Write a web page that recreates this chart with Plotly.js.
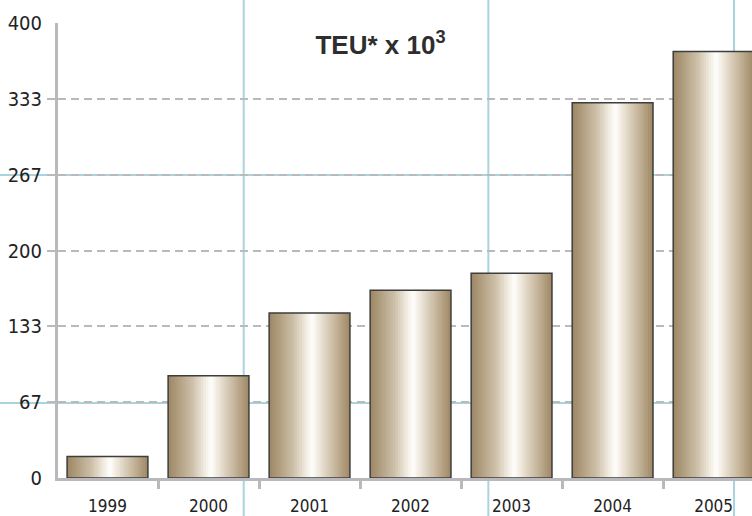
<!DOCTYPE html>
<html>
<head>
<meta charset="utf-8">
<script src="https://cdn.plot.ly/plotly-3.0.1.min.js"></script>
<style>
  html, body { margin: 0; padding: 0; background: #ffffff; }
  #chart { width: 752px; height: 516px; }
</style>
</head>
<body>
<div id="chart"></div>
<script>
// ---- data ----
const years = ['1999', '2000', '2001', '2002', '2003', '2004', '2005'];
const teu = [19, 90, 145, 165, 180, 330, 375];
const yTickVals = [0, 66.67, 133.33, 200, 266.67, 333.33, 400];
const yTickText = ['0', '67', '133', '200', '267', '333', '400'];
const gridVals = [66.67, 133.33, 200, 266.67, 333.33];

// ---- style helpers ----
const gradStops = [
  [0.00, [156, 134, 99]],
  [0.12, [176, 157, 126]],
  [0.30, [205, 192, 169]],
  [0.45, [240, 234, 223]],
  [0.53, [255, 255, 253]],
  [0.62, [238, 231, 219]],
  [0.80, [201, 186, 161]],
  [1.00, [158, 135, 100]]
];
function gradColor(t) {
  for (let i = 1; i < gradStops.length; i++) {
    if (t <= gradStops[i][0]) {
      const a = gradStops[i - 1], b = gradStops[i];
      const f = (t - a[0]) / (b[0] - a[0]);
      const c = a[1].map((v, k) => Math.round(v + (b[1][k] - v) * f));
      return 'rgb(' + c.join(',') + ')';
    }
  }
  return 'rgb(' + gradStops[gradStops.length - 1][1].join(',') + ')';
}

const barW = 0.8;
const nStrips = 32;
const stripW = barW / nStrips;
const traces = [];
for (let i = 0; i < nStrips; i++) {
  traces.push({
    type: 'bar',
    x: years,
    y: teu,
    width: i === nStrips - 1 ? stripW : stripW * 1.6,
    offset: -barW / 2 + i * stripW,
    marker: { color: gradColor((i + 0.5) / nStrips), line: { width: 0 } },
    hoverinfo: 'skip',
    showlegend: false
  });
}
// outline on top
traces.push({
  type: 'bar',
  x: years,
  y: teu,
  width: barW,
  offset: -barW / 2,
  marker: { color: 'rgba(0,0,0,0)', line: { color: '#3d3d3d', width: 1.5 } },
  hoverinfo: 'skip',
  showlegend: false
});

const blue = '#a9d3de';
const axisGrey = '#b9b9bd';
const labelFamily = '"Liberation Sans Narrow", "DejaVu Sans Condensed", Arial, sans-serif';

const layout = {
  width: 752,
  height: 516,
  margin: { l: 58, r: 0, t: 23, b: 38, pad: 0 },
  paper_bgcolor: '#ffffff',
  plot_bgcolor: 'rgba(0,0,0,0)',
  barmode: 'overlay',
  showlegend: false,
  title: {
    text: 'TEU* x 10<sup>3</sup>',
    x: 0.506, xref: 'container', xanchor: 'center',
    y: 0.913, yref: 'container', yanchor: 'middle',
    font: { family: '"Liberation Sans", Arial, sans-serif', size: 26, color: '#2e2e2e', weight: 'bold' }
  },
  xaxis: {
    type: 'category',
    range: [-0.49, 6.38],
    showline: true, linecolor: axisGrey, linewidth: 3,
    showgrid: false, zeroline: false,
    ticks: 'outside', tickson: 'boundaries', ticklen: 8, tickwidth: 3, tickcolor: axisGrey,
    tickfont: { family: labelFamily, size: 17, color: '#222222' },
    ticklabelstandoff: 11
  },
  yaxis: {
    range: [0, 400],
    tickmode: 'array', tickvals: yTickVals, ticktext: yTickText,
    showline: true, linecolor: axisGrey, linewidth: 3,
    showgrid: false, zeroline: false,
    ticks: '',
    tickfont: { family: labelFamily, size: 20, color: '#222222' },
    ticklabelstandoff: 9,
    minor: {
      tickmode: 'array', tickvals: gridVals,
      showgrid: true, gridcolor: '#bababa', gridwidth: 2, griddash: '8px,5px',
      ticks: 'outside', ticklen: 8, tickwidth: 2, tickcolor: '#bababa'
    }
  },
  shapes: [
    { type: 'line', xref: 'paper', yref: 'paper', x0: 0.2676, x1: 0.2676, y0: -0.2, y1: 1.2, line: { color: blue, width: 2 }, layer: 'below' },
    { type: 'line', xref: 'paper', yref: 'paper', x0: 0.6201, x1: 0.6201, y0: -0.2, y1: 1.2, line: { color: blue, width: 2 }, layer: 'below' },
    { type: 'line', xref: 'paper', yref: 'paper', x0: 0.9741, x1: 0.9741, y0: -0.2, y1: 1.2, line: { color: blue, width: 2 }, layer: 'below' },
    { type: 'line', xref: 'paper', yref: 'paper', x0: -0.1, x1: 1.05, y0: 0.666, y1: 0.666, line: { color: blue, width: 2 }, layer: 'below' },
    { type: 'line', xref: 'paper', yref: 'paper', x0: -0.1, x1: 1.05, y0: 0.165, y1: 0.165, line: { color: blue, width: 2 }, layer: 'below' }
  ]
};

Plotly.newPlot('chart', traces, layout, { displayModeBar: false, staticPlot: true });
</script>
</body>
</html>
